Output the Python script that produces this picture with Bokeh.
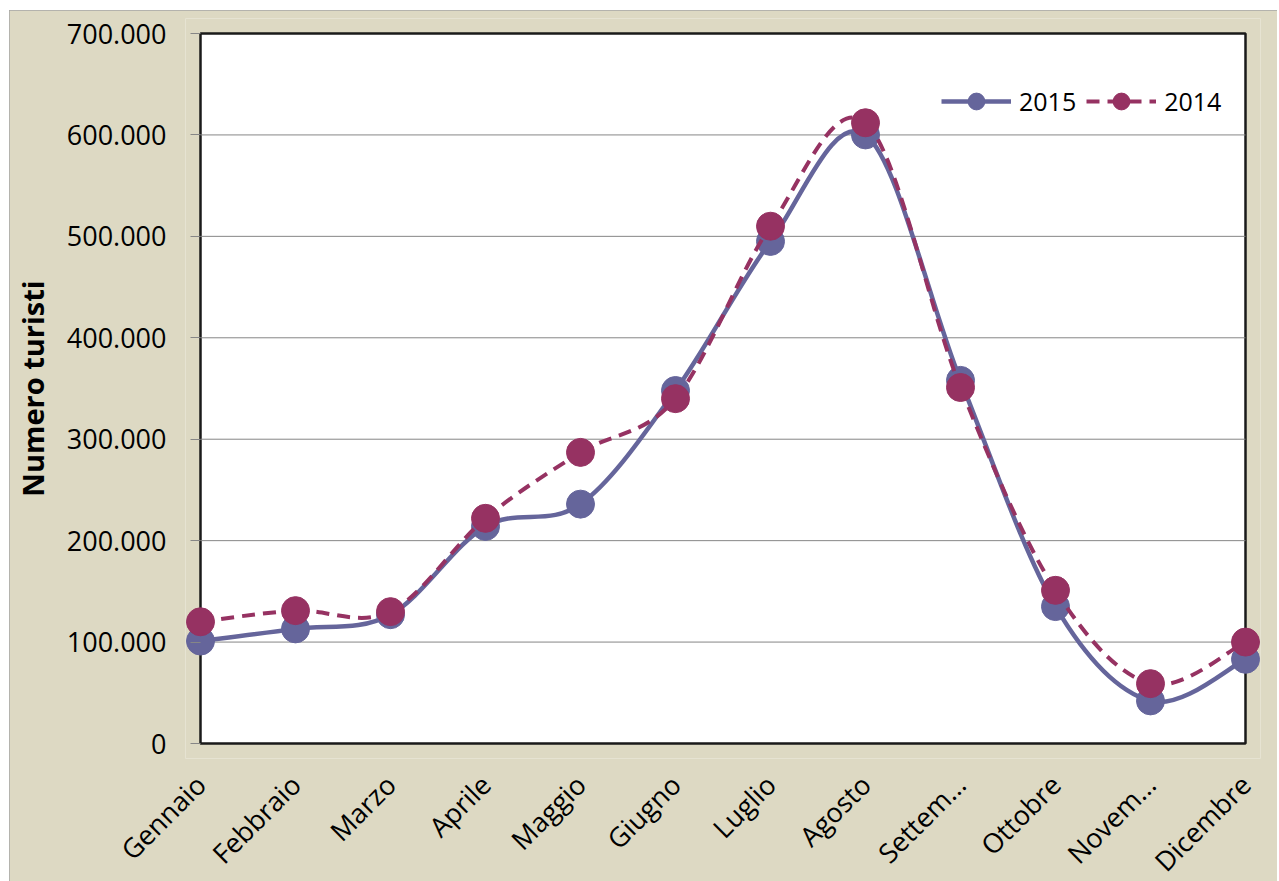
import numpy as np
from bokeh.plotting import figure
from bokeh.models import (Range1d, FixedTicker, BoxAnnotation, Legend, LegendItem)
from bokeh.embed import file_html
from bokeh.resources import INLINE

# ---- data ----
months = ["Gennaio", "Febbraio", "Marzo", "Aprile", "Maggio", "Giugno",
          "Luglio", "Agosto", "Settembre", "Ottobre", "Novembre", "Dicembre"]
month_labels = ["Gennaio", "Febbraio", "Marzo", "Aprile", "Maggio", "Giugno",
                "Luglio", "Agosto", "Settem…", "Ottobre", "Novem…", "Dicembre"]
turisti_2015 = [101000, 113000, 127000, 214000, 236000, 348000,
                495000, 600000, 358000, 135000, 42000, 83000]
turisti_2014 = [120000, 131000, 130000, 222000, 287000, 340000,
                510000, 612000, 351000, 151000, 59000, 100000]
y_ticks = [0, 100000, 200000, 300000, 400000, 500000, 600000, 700000]
y_tick_labels = ["0", "100.000", "200.000", "300.000", "400.000",
                 "500.000", "600.000", "700.000"]

BEIGE = "#ddd9c3"
C2015 = "#65659b"
C2014 = "#963262"
FONT = "Open Sans"

x_idx = list(range(len(months)))

# layout: 95 px per month, 710 px per 700.000, 15 px padding around the white box
FW, FH = 1075, 740
ML, MR, MT = 176, 17, 8
xpad = (FW / 95.0 - 11) / 2.0
ytot = FH * 700000 / 710.0
ypad = (ytot - 700000) / 2.0

p = figure(frame_width=FW, frame_height=FH, output_backend="svg", toolbar_location=None,
           x_range=Range1d(-xpad, 11 + xpad), y_range=Range1d(-ypad, 700000 + ypad),
           min_border_left=ML, min_border_right=MR, min_border_top=MT, min_border_bottom=100,
           background_fill_color=BEIGE, border_fill_color=BEIGE, outline_line_color=None,
           styles={"margin-left": "9px", "margin-top": "10px", "margin-bottom": "-80px",
                   "outline": "1px solid #a6a6a6", "outline-offset": "-1px"})
p.xgrid.visible = False
p.ygrid.visible = False

# white plotting area
box = BoxAnnotation(left=0, right=len(months) - 1, bottom=y_ticks[0], top=y_ticks[-1],
                    fill_color="white", fill_alpha=1.0, line_color="#1a1a1a",
                    line_alpha=1.0, line_width=2.5, level="underlay")
p.add_layout(box)

# horizontal gridlines
gy = y_ticks[1:-1]
p.segment(x0=[0] * len(gy), x1=[len(months) - 1] * len(gy), y0=gy, y1=gy,
          line_color="#868686", line_width=1)


def bezier_parts(ys):
    ys = np.asarray(ys, dtype=float)
    xs = np.asarray(x_idx, dtype=float)
    P = np.stack([xs, ys], axis=1)
    prev = np.vstack([P[0], P[:-1]])
    nxt = np.vstack([P[1:], P[-1]])
    tang = (nxt - prev) / 6.0
    c0 = P[:-1] + tang[:-1]
    c1 = P[1:] - tang[1:]
    return dict(x0=P[:-1, 0], y0=P[:-1, 1], x1=P[1:, 0], y1=P[1:, 1],
                cx0=c0[:, 0], cy0=c0[:, 1], cx1=c1[:, 0], cy1=c1[:, 1])


b15 = bezier_parts(turisti_2015)
r15 = p.bezier(**b15, line_color=C2015, line_width=4.5)
s15 = p.scatter(x_idx, turisti_2015, size=28, fill_color=C2015, line_color=C2015)

b14 = bezier_parts(turisti_2014)
r14 = p.bezier(**b14, line_color=C2014, line_width=4, line_dash="13 8")
s14 = p.scatter(x_idx, turisti_2014, size=28, fill_color=C2014, line_color=C2014)

legend = Legend(items=[LegendItem(label="2015", renderers=[r15, s15]),
                       LegendItem(label="2014", renderers=[r14, s14])],
                orientation="horizontal", location=(756, FH - 104),
                glyph_width=70, glyph_height=42, label_standoff=8, spacing=10,
                padding=0, margin=0, border_line_color=None, background_fill_alpha=0,
                label_text_font=FONT, label_text_font_size="25px",
                label_text_color="black")
p.add_layout(legend)

# axes
p.xaxis.ticker = FixedTicker(ticks=x_idx)
p.xaxis.major_label_overrides = {i: lab for i, lab in zip(x_idx, month_labels)}
p.xaxis.major_label_orientation = np.pi / 4
p.xaxis.axis_line_color = None
p.xaxis.major_tick_line_color = None
p.xaxis.minor_tick_line_color = None
p.xaxis.major_label_standoff = 15
p.xaxis.major_label_text_font = FONT
p.xaxis.major_label_text_font_size = "27px"
p.xaxis.major_label_text_color = "black"

p.yaxis.ticker = FixedTicker(ticks=y_ticks)
p.yaxis.major_label_overrides = {t: lab for t, lab in zip(y_ticks, y_tick_labels)}
p.yaxis.axis_label = "Numero turisti"
p.yaxis.axis_line_color = None
p.yaxis.major_tick_in = 15
p.yaxis.major_tick_out = -5
p.yaxis.major_tick_line_color = "#868686"
p.yaxis.minor_tick_line_color = None
p.yaxis.major_label_standoff = 19
p.yaxis.major_label_text_font = FONT
p.yaxis.major_label_text_font_size = "27px"
p.yaxis.major_label_text_color = "black"
p.yaxis.axis_label_text_font = FONT
p.yaxis.axis_label_text_font_style = "bold"
p.yaxis.axis_label_text_font_size = "29px"
p.yaxis.axis_label_text_color = "black"
p.yaxis.axis_label_standoff = 12

open("out.html", "w").write(file_html(p, INLINE))
